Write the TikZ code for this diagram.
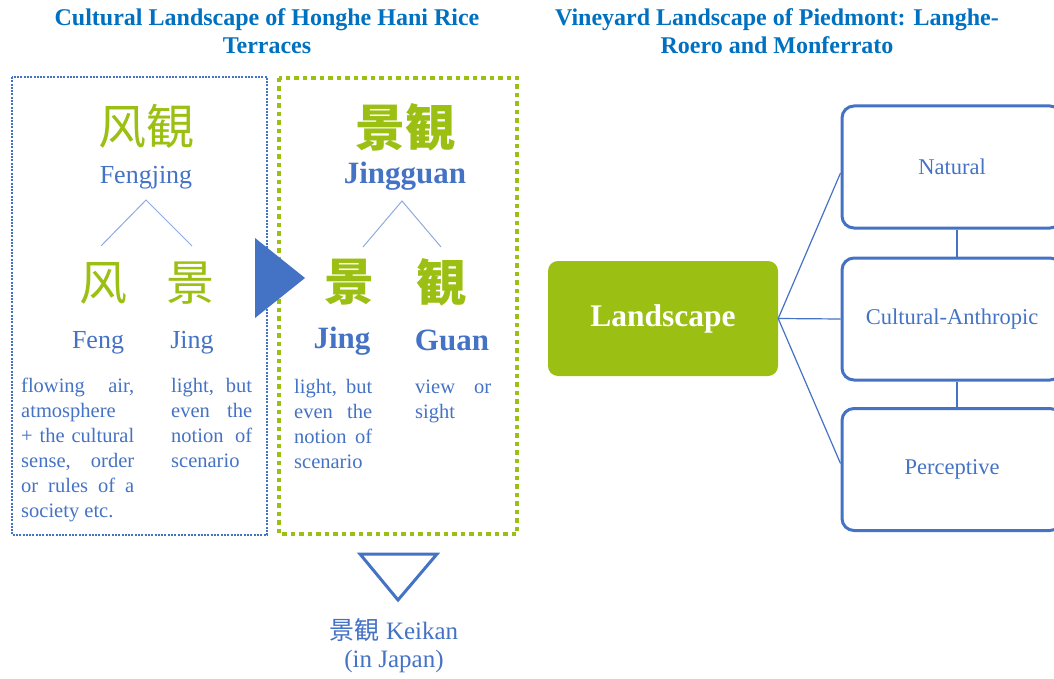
\documentclass[tikz,border=0pt]{standalone}
\usepackage{fontspec}
\setmainfont{Liberation Serif}
\newfontfamily\cjk{Noto Sans CJK JP}
\usetikzlibrary{calc}
\definecolor{tblue}{HTML}{0070C0}
\definecolor{nblue}{HTML}{4472C4}
\definecolor{lblue}{HTML}{8FAADC}
\definecolor{hgreen}{HTML}{9BBF12}
\newcommand\jline[2]{\makebox[#1][s]{#2}}
\begin{document}
\begin{tikzpicture}[x=1pt,y=-1pt,
  title/.style={font=\bfseries\fontsize{24}{28}\selectfont, text=tblue, align=center, inner sep=0, anchor=base},
  cjkL/.style={font=\cjk\fontsize{48}{48}\selectfont, text=hgreen, inner sep=0},
  cjkB/.style={font=\cjk\bfseries\fontsize{50}{50}\selectfont, text=hgreen, inner sep=0},
  roman/.style={font=\fontsize{26}{30}\selectfont, text=nblue, inner sep=0, anchor=base},
  romanB/.style={font=\bfseries\fontsize{31}{34}\selectfont, text=nblue, inner sep=0, anchor=base},
  para/.style={font=\fontsize{20.5}{25}\selectfont, text=nblue, inner sep=0, anchor=base west, align=left},
  treeline/.style={draw=lblue, line width=1pt},
  catbox/.style={draw=nblue, line width=3pt, rounded corners=12pt, minimum width=220pt, minimum height=122pt, font=\fontsize{22.5}{26}\selectfont, text=nblue},
  link/.style={draw=nblue, line width=1.2pt}]
\useasboundingbox (0,0) rectangle (1054,679);

% titles (base anchor = baseline of last line)
\node[title] (t1) at (267,54) {Cultural Landscape of Honghe Hani Rice\\Terraces};
\node[title] (t2) at (777,54) {Vineyard Landscape of Piedmont: Langhe-\\Roero and Monferrato};

% frames
\draw[nblue, line width=2.6pt, dash pattern=on 2pt off 1.3pt] (12,77) rectangle (267,535);
\draw[hgreen, line width=4.5pt, dash pattern=on 4.5pt off 4pt] (279,78) rectangle (517,534);

% arrow
\fill[nblue] (255,238) -- (305,278) -- (255,318) -- cycle;

% left column
\node[cjkL] (fj) at (146,126) {风観};
\node[roman] (fjr) at (146,183) {Fengjing};
\coordinate (la) at (146,200);
\coordinate (lb) at (101,246);
\coordinate (lc) at (192,246);
\draw[treeline] (lb) -- (la) -- (lc);
\node[cjkL] (feng) at (103,283) {风};
\node[cjkL] (jing1) at (190,283) {景};
\node[roman] (fengr) at (98,348) {Feng};
\node[roman] (jing1r) at (192,348) {Jing};
\node[para] (fengt) at (21,517) {\jline{113pt}{flowing air,}\\atmosphere\\\jline{113pt}{+ the cultural}\\\jline{113pt}{sense, order}\\\jline{113pt}{or rules of a}\\society etc.};
\node[para] (jing1t) at (171,467) {\jline{81pt}{light, but}\\\jline{81pt}{even the}\\\jline{81pt}{notion of}\\scenario};

% middle column
\node[cjkB] (jg) at (405,127) {景観};
\node[romanB] (jgr) at (405,183) {Jingguan};
\coordinate (ma) at (402,201);
\coordinate (mb) at (363,247);
\coordinate (mc) at (441,247);
\draw[treeline] (mb) -- (ma) -- (mc);
\node[cjkB] (jing2) at (349,282) {景};
\node[cjkB] (guan) at (441,282) {観};
\node[romanB] (jing2r) at (342,348) {Jing};
\node[romanB] (guanr) at (452,350) {Guan};
\node[para] (jing2t) at (294,468) {\jline{78pt}{light, but}\\\jline{78pt}{even the}\\\jline{78pt}{notion of}\\scenario};
\node[para] (guant) at (415,418) {\jline{76pt}{view or}\\sight};

% Japan
\draw[nblue, line width=3pt, line join=miter] (360,554) -- (437,554) -- (398,600) -- cycle;
\node[font=\fontsize{25}{28}\selectfont, text=nblue, align=center, inner sep=0, anchor=base] (keikan) at (394,667) {{\cjk 景観} Keikan\\(in Japan)};

% right part
\node[fill=hgreen, rounded corners=10pt, minimum width=230pt, minimum height=115pt, inner sep=0, text=white, font=\bfseries\fontsize{31.5}{34}\selectfont] (land) at (663,318.5) {Landscape};
\node[catbox] (nat) at (952,167) {Natural};
\node[catbox] (cul) at (952,319) {Cultural-Anthropic};
\node[catbox] (per) at (952,469.5) {Perceptive};
\draw[link] (land.east) -- ($(nat.west)+(0,6)$);
\draw[link] (land.east) -- (cul.west);
\draw[link] (land.east) -- ($(per.west)+(0,-6)$);
\draw[link, line width=2pt] ($(nat.south)+(5,0)$) -- ($(cul.north)+(5,0)$);
\draw[link, line width=2pt] ($(cul.south)+(5,0)$) -- ($(per.north)+(5,0)$);
\end{tikzpicture}
\end{document}
